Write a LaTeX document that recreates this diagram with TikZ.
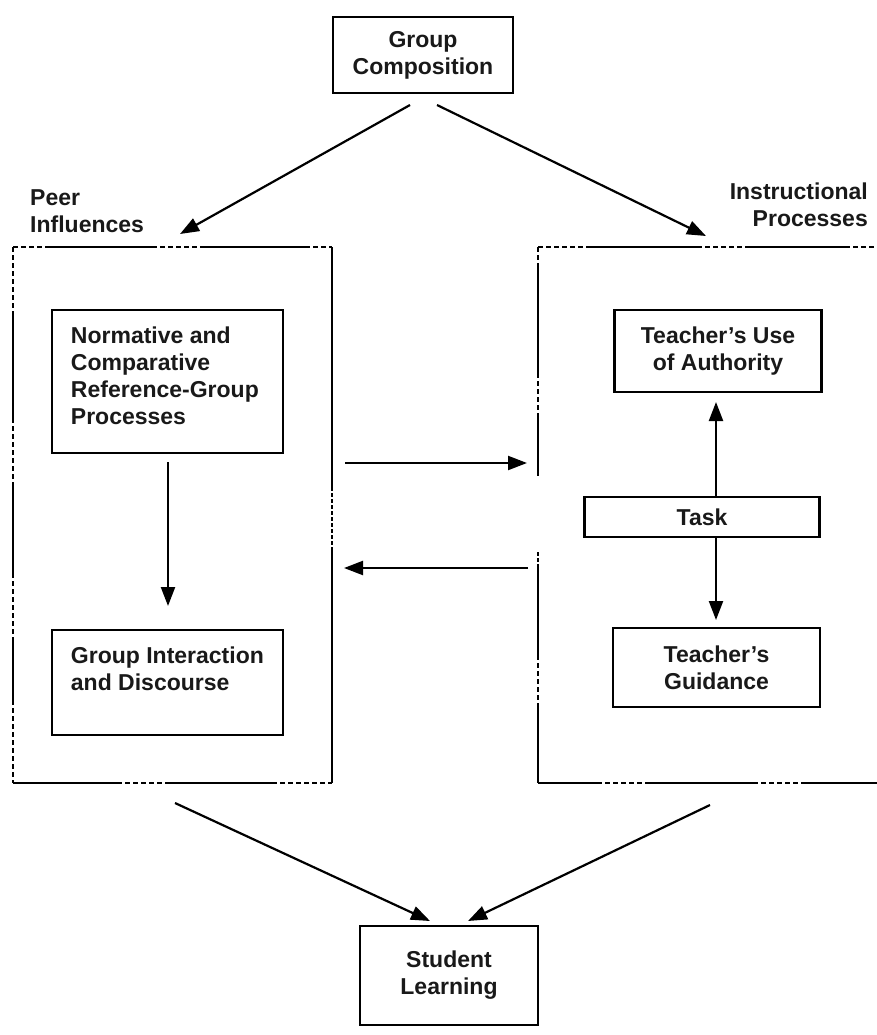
\documentclass[tikz,border=0pt]{standalone}
\usepackage{fontspec}
\setmainfont{Liberation Sans}
\usetikzlibrary{arrows.meta,calc}
\begin{document}
\begin{tikzpicture}[x=1pt,y=-1pt,
  box/.style={draw,line width=2.5pt,inner sep=0pt},
  txt/.style={inner sep=0pt,text=black!90,font=\fontsize{23}{27}\selectfont\bfseries},
  sol/.style={line width=2.5pt},
  dsh/.style={line width=2.5pt,dash pattern=on 5pt off 3pt},
  dot/.style={line width=2.5pt,dash pattern=on 3.5pt off 2.5pt},
  arr/.style={line width=2.2pt,-{Triangle[length=19pt,width=14pt]}}]
\useasboundingbox (0,0) rectangle (877,1035);
% small boxes
\node[box,minimum width=180pt,minimum height=76pt,align=center,txt] (gc) at (423,55) {Group\\Composition};
\node[box,minimum width=231pt,minimum height=143pt] (norm) at (167.5,381.5) {};
\node[txt,anchor=north west,align=left] (normt) at ($(norm.north west)+(20,18)$) {Normative and\\Comparative\\Reference-Group\\Processes};
\node[box,minimum width=231pt,minimum height=105pt] (gi) at (167.5,682.5) {};
\node[txt,anchor=north west,align=left] (git) at ($(gi.north west)+(20,18)$) {Group Interaction\\and Discourse};
\node[box,minimum width=207pt,minimum height=82pt] (tua) at (718,351) {};
\node[txt,anchor=north,align=center] (tuat) at ($(tua.north)+(0,18)$) {Teacher's Use\\of Authority};
\node[box,minimum width=235pt,minimum height=40pt,align=center,txt] (task) at (702,517) {Task};
\node[box,minimum width=207pt,minimum height=79pt,align=center,txt] (tg) at (716.5,667.5) {Teacher's\\Guidance};
\node[box,minimum width=178pt,minimum height=99pt,align=center,txt] (sl) at (449,975.5) {Student\\Learning};
% labels
\node[txt,anchor=north west,align=left] (peer) at (30,189) {Peer\\Influences};
\node[txt,anchor=north east,align=right] (instr) at (868,183) {Instructional\\Processes};
% left large box
\draw[dsh] (13,247) -- (45,247);
\draw[sol] (45,247) -- (152,247);
\draw[dsh] (152,247) -- (200,247);
\draw[sol] (200,247) -- (305,247);
\draw[dsh] (305,247) -- (332,247);
\draw[sol] (332,247) -- (332,487);
\draw[dot] (332,487) -- (332,547);
\draw[sol] (332,547) -- (332,783);
\draw[sol] (13,783) -- (117,783);
\draw[dsh] (117,783) -- (165,783);
\draw[sol] (165,783) -- (272,783);
\draw[dsh] (272,783) -- (332,783);
\draw[dsh] (13,247) -- (13,312);
\draw[sol] (13,312) -- (13,418);
\draw[dsh] (13,418) -- (13,487);
\draw[sol] (13,487) -- (13,573);
\draw[dsh] (13,573) -- (13,640);
\draw[sol] (13,640) -- (13,700);
\draw[dsh] (13,700) -- (13,783);
% right large box
\draw[dsh] (538,247) -- (590,247);
\draw[sol] (590,247) -- (697,247);
\draw[dsh] (697,247) -- (747,247);
\draw[sol] (747,247) -- (845,247);
\draw[dsh] (845,247) -- (877,247);
\draw[dsh] (538,247) -- (538,268);
\draw[sol] (538,268) -- (538,373);
\draw[dsh] (538,373) -- (538,417);
\draw[sol] (538,417) -- (538,476);
\draw[dot] (538,552) -- (538,568);
\draw[sol] (538,568) -- (538,655);
\draw[dsh] (538,655) -- (538,707);
\draw[sol] (538,707) -- (538,783);
\draw[sol] (538,783) -- (597,783);
\draw[dsh] (597,783) -- (648,783);
\draw[sol] (648,783) -- (753,783);
\draw[dsh] (753,783) -- (803,783);
\draw[sol] (803,783) -- (877,783);
% arrows
\coordinate (a1s) at (410,105); \coordinate (a1e) at (180,234);
\coordinate (a2s) at (437,105); \coordinate (a2e) at (706,236);
\draw[arr] (a1s) -- (a1e);
\draw[arr] (a2s) -- (a2e);
\draw[arr] (norm.south -| 168,0) ++(0,8) -- (168,606);
\coordinate (h1s) at (345,463); \coordinate (h1e) at (527,463);
\coordinate (h2s) at (528,568); \coordinate (h2e) at (344,568);
\draw[arr] (h1s) -- (h1e);
\draw[arr] (h2s) -- (h2e);
\draw[arr] (task.north -| 716,0) -- (716,402);
\draw[arr] (task.south -| 716,0) -- (716,620);
\coordinate (b1s) at (175,803); \coordinate (b1e) at (430,921);
\coordinate (b2s) at (710,805); \coordinate (b2e) at (468,921);
\draw[arr] (b1s) -- (b1e);
\draw[arr] (b2s) -- (b2e);
\end{tikzpicture}
\end{document}
